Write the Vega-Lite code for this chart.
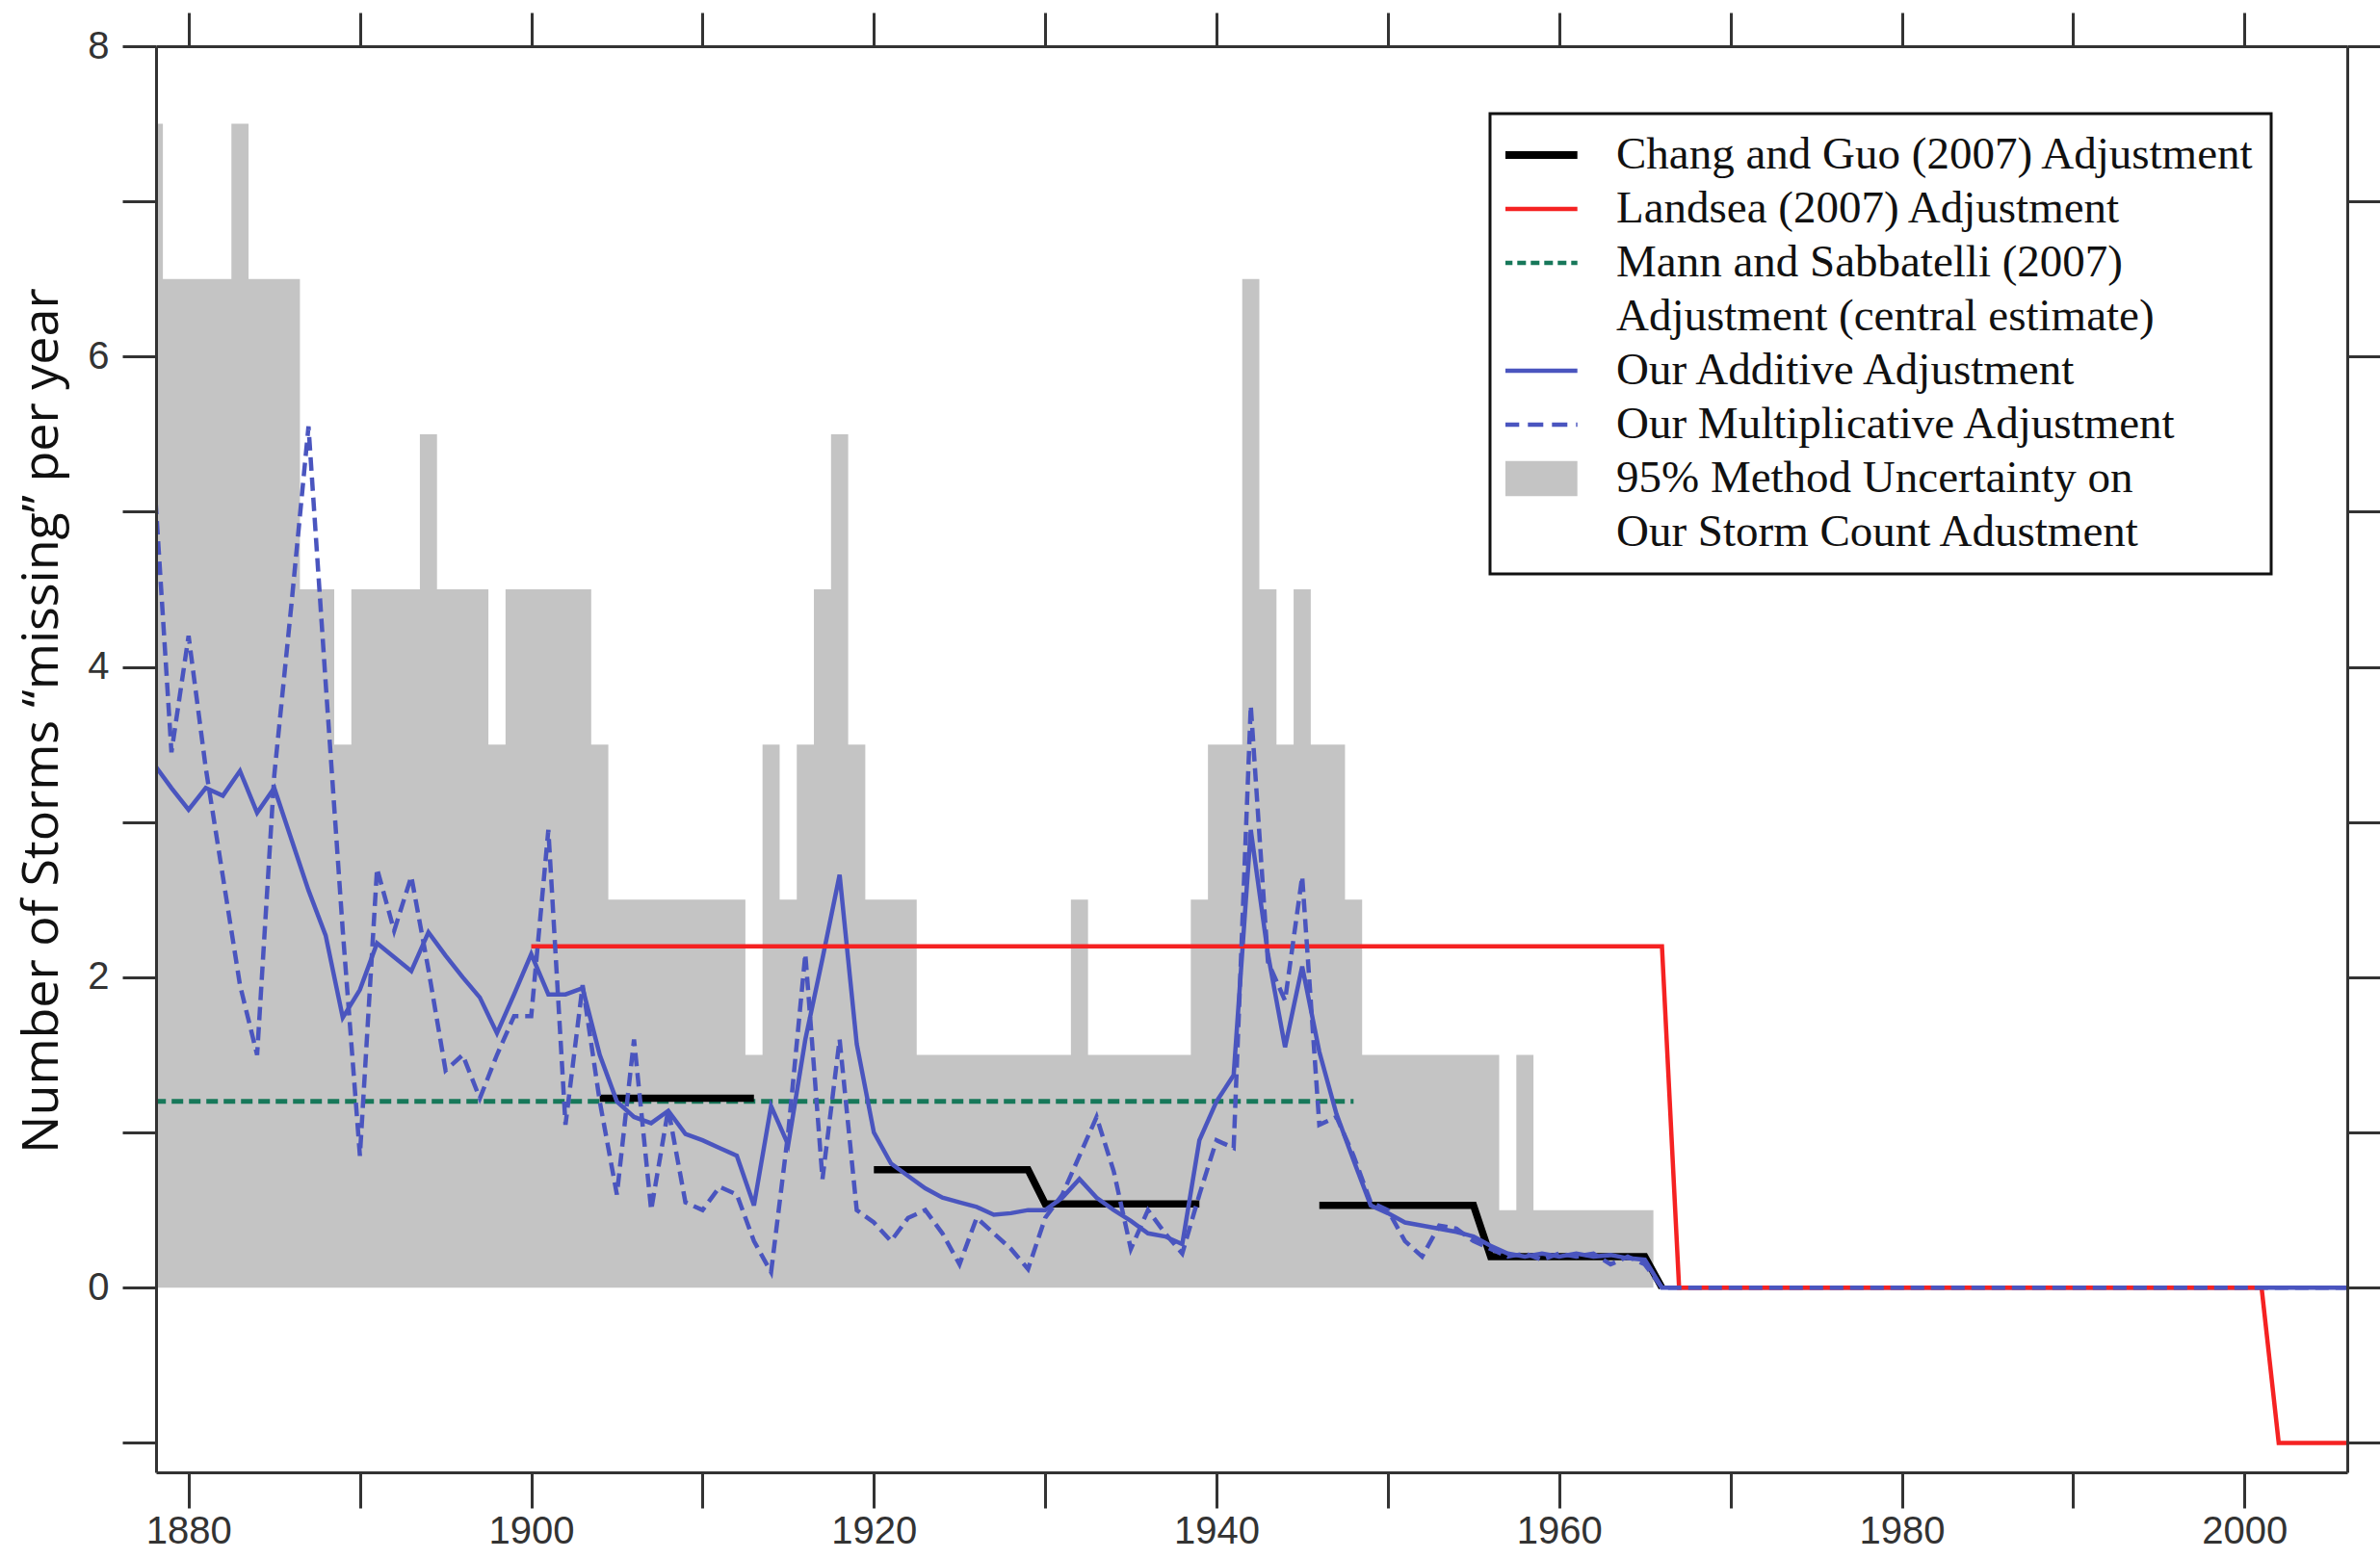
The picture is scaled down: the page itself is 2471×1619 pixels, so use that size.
{
  "$schema": "https://vega.github.io/schema/vega-lite/v6.json",
  "width": 2275,
  "height": 1481,
  "autosize": {"type": "none"},
  "padding": {"left": 162, "top": 48, "right": 34, "bottom": 90},
  "background": "white",
  "config": {
    "view": {"stroke": null},
    "legend": {"strokeWidth": 3},
    "axis": {
      "domainColor": "#333333",
      "domainWidth": 3,
      "tickColor": "#333333",
      "tickWidth": 3,
      "grid": false,
      "labelFont": "Liberation Sans",
      "labelColor": "#333333",
      "labelFlush": false,
      "labelOverlap": false
    }
  },
  "datasets": {
    "unc": [
      {"year":1878,"hi":7.5},{"year":1879,"hi":6.5},{"year":1880,"hi":6.5},{"year":1881,"hi":6.5},{"year":1882,"hi":6.5},
      {"year":1883,"hi":7.5},{"year":1884,"hi":6.5},{"year":1885,"hi":6.5},{"year":1886,"hi":6.5},{"year":1887,"hi":4.5},
      {"year":1888,"hi":4.5},{"year":1889,"hi":3.5},{"year":1890,"hi":4.5},{"year":1891,"hi":4.5},{"year":1892,"hi":4.5},
      {"year":1893,"hi":4.5},{"year":1894,"hi":5.5},{"year":1895,"hi":4.5},{"year":1896,"hi":4.5},{"year":1897,"hi":4.5},
      {"year":1898,"hi":3.5},{"year":1899,"hi":4.5},{"year":1900,"hi":4.5},{"year":1901,"hi":4.5},{"year":1902,"hi":4.5},
      {"year":1903,"hi":4.5},{"year":1904,"hi":3.5},{"year":1905,"hi":2.5},{"year":1906,"hi":2.5},{"year":1907,"hi":2.5},
      {"year":1908,"hi":2.5},{"year":1909,"hi":2.5},{"year":1910,"hi":2.5},{"year":1911,"hi":2.5},{"year":1912,"hi":2.5},
      {"year":1913,"hi":1.5},{"year":1914,"hi":3.5},{"year":1915,"hi":2.5},{"year":1916,"hi":3.5},{"year":1917,"hi":4.5},
      {"year":1918,"hi":5.5},{"year":1919,"hi":3.5},{"year":1920,"hi":2.5},{"year":1921,"hi":2.5},{"year":1922,"hi":2.5},
      {"year":1923,"hi":1.5},{"year":1924,"hi":1.5},{"year":1925,"hi":1.5},{"year":1926,"hi":1.5},{"year":1927,"hi":1.5},
      {"year":1928,"hi":1.5},{"year":1929,"hi":1.5},{"year":1930,"hi":1.5},{"year":1931,"hi":1.5},{"year":1932,"hi":2.5},
      {"year":1933,"hi":1.5},{"year":1934,"hi":1.5},{"year":1935,"hi":1.5},{"year":1936,"hi":1.5},{"year":1937,"hi":1.5},
      {"year":1938,"hi":1.5},{"year":1939,"hi":2.5},{"year":1940,"hi":3.5},{"year":1941,"hi":3.5},{"year":1942,"hi":6.5},
      {"year":1943,"hi":4.5},{"year":1944,"hi":3.5},{"year":1945,"hi":4.5},{"year":1946,"hi":3.5},{"year":1947,"hi":3.5},
      {"year":1948,"hi":2.5},{"year":1949,"hi":1.5},{"year":1950,"hi":1.5},{"year":1951,"hi":1.5},{"year":1952,"hi":1.5},
      {"year":1953,"hi":1.5},{"year":1954,"hi":1.5},{"year":1955,"hi":1.5},{"year":1956,"hi":1.5},{"year":1957,"hi":0.5},
      {"year":1958,"hi":1.5},{"year":1959,"hi":0.5},{"year":1960,"hi":0.5},{"year":1961,"hi":0.5},{"year":1962,"hi":0.5},
      {"year":1963,"hi":0.5},{"year":1964,"hi":0.5},{"year":1965,"hi":0.5},{"year":1966,"hi":0}
    ],
    "ours": [
      {"year":1878,"add":3.37,"mult":5.2},{"year":1879,"add":3.22,"mult":3.45},{"year":1880,"add":3.08,"mult":4.2},
      {"year":1881,"add":3.22,"mult":3.35},{"year":1882,"add":3.17,"mult":2.65},{"year":1883,"add":3.33,"mult":1.95},
      {"year":1884,"add":3.06,"mult":1.5},{"year":1885,"add":3.22,"mult":3.3},{"year":1886,"add":2.89,"mult":4.4},
      {"year":1887,"add":2.56,"mult":5.55},{"year":1888,"add":2.27,"mult":3.9},{"year":1889,"add":1.74,"mult":2.3},
      {"year":1890,"add":1.92,"mult":0.85},{"year":1891,"add":2.22,"mult":2.7},{"year":1892,"add":2.13,"mult":2.3},
      {"year":1893,"add":2.04,"mult":2.65},{"year":1894,"add":2.29,"mult":2.05},{"year":1895,"add":2.14,"mult":1.4},
      {"year":1896,"add":2.0,"mult":1.5},{"year":1897,"add":1.87,"mult":1.22},{"year":1898,"add":1.64,"mult":1.5},
      {"year":1899,"add":1.89,"mult":1.75},{"year":1900,"add":2.15,"mult":1.75},{"year":1901,"add":1.89,"mult":2.95},
      {"year":1902,"add":1.89,"mult":1.05},{"year":1903,"add":1.93,"mult":1.95},{"year":1904,"add":1.5,"mult":1.2},
      {"year":1905,"add":1.2,"mult":0.6},{"year":1906,"add":1.1,"mult":1.6},{"year":1907,"add":1.06,"mult":0.5},
      {"year":1908,"add":1.14,"mult":1.15},{"year":1909,"add":0.99,"mult":0.55},{"year":1910,"add":0.95,"mult":0.5},
      {"year":1911,"add":0.9,"mult":0.65},{"year":1912,"add":0.85,"mult":0.6},{"year":1913,"add":0.53,"mult":0.3},
      {"year":1914,"add":1.17,"mult":0.1},{"year":1915,"add":0.92,"mult":1.0},{"year":1916,"add":1.6,"mult":2.15},
      {"year":1917,"add":2.12,"mult":0.7},{"year":1918,"add":2.66,"mult":1.6},{"year":1919,"add":1.57,"mult":0.5},
      {"year":1920,"add":1.0,"mult":0.42},{"year":1921,"add":0.8,"mult":0.3},{"year":1922,"add":0.72,"mult":0.45},
      {"year":1923,"add":0.64,"mult":0.5},{"year":1924,"add":0.58,"mult":0.35},{"year":1925,"add":0.55,"mult":0.15},
      {"year":1926,"add":0.52,"mult":0.45},{"year":1927,"add":0.47,"mult":0.35},{"year":1928,"add":0.48,"mult":0.25},
      {"year":1929,"add":0.5,"mult":0.12},{"year":1930,"add":0.5,"mult":0.45},{"year":1931,"add":0.58,"mult":0.6},
      {"year":1932,"add":0.7,"mult":0.85},{"year":1933,"add":0.58,"mult":1.1},{"year":1934,"add":0.5,"mult":0.75},
      {"year":1935,"add":0.43,"mult":0.25},{"year":1936,"add":0.35,"mult":0.5},{"year":1937,"add":0.33,"mult":0.35},
      {"year":1938,"add":0.28,"mult":0.22},{"year":1939,"add":0.95,"mult":0.6},{"year":1940,"add":1.2,"mult":0.95},
      {"year":1941,"add":1.37,"mult":0.9},{"year":1942,"add":2.95,"mult":3.75},{"year":1943,"add":2.15,"mult":2.1},
      {"year":1944,"add":1.55,"mult":1.85},{"year":1945,"add":2.07,"mult":2.65},{"year":1946,"add":1.52,"mult":1.05},
      {"year":1947,"add":1.12,"mult":1.1},{"year":1948,"add":0.82,"mult":0.85},{"year":1949,"add":0.53,"mult":0.55},
      {"year":1950,"add":0.48,"mult":0.5},{"year":1951,"add":0.42,"mult":0.3},{"year":1952,"add":0.4,"mult":0.2},
      {"year":1953,"add":0.38,"mult":0.4},{"year":1954,"add":0.36,"mult":0.38},{"year":1955,"add":0.33,"mult":0.3},
      {"year":1956,"add":0.27,"mult":0.25},{"year":1957,"add":0.22,"mult":0.2},{"year":1958,"add":0.2,"mult":0.22},
      {"year":1959,"add":0.22,"mult":0.18},{"year":1960,"add":0.2,"mult":0.22},{"year":1961,"add":0.22,"mult":0.2},
      {"year":1962,"add":0.2,"mult":0.22},{"year":1963,"add":0.21,"mult":0.15},{"year":1964,"add":0.19,"mult":0.2},
      {"year":1965,"add":0.18,"mult":0.15},{"year":1966,"add":0,"mult":0},{"year":1967,"add":0,"mult":0},
      {"year":1968,"add":0,"mult":0},{"year":1969,"add":0,"mult":0},{"year":1970,"add":0,"mult":0},
      {"year":1971,"add":0,"mult":0},{"year":1972,"add":0,"mult":0},{"year":1973,"add":0,"mult":0},
      {"year":1974,"add":0,"mult":0},{"year":1975,"add":0,"mult":0},{"year":1976,"add":0,"mult":0},
      {"year":1977,"add":0,"mult":0},{"year":1978,"add":0,"mult":0},{"year":1979,"add":0,"mult":0},
      {"year":1980,"add":0,"mult":0},{"year":1981,"add":0,"mult":0},{"year":1982,"add":0,"mult":0},
      {"year":1983,"add":0,"mult":0},{"year":1984,"add":0,"mult":0},{"year":1985,"add":0,"mult":0},
      {"year":1986,"add":0,"mult":0},{"year":1987,"add":0,"mult":0},{"year":1988,"add":0,"mult":0},
      {"year":1989,"add":0,"mult":0},{"year":1990,"add":0,"mult":0},{"year":1991,"add":0,"mult":0},
      {"year":1992,"add":0,"mult":0},{"year":1993,"add":0,"mult":0},{"year":1994,"add":0,"mult":0},
      {"year":1995,"add":0,"mult":0},{"year":1996,"add":0,"mult":0},{"year":1997,"add":0,"mult":0},
      {"year":1998,"add":0,"mult":0},{"year":1999,"add":0,"mult":0},{"year":2000,"add":0,"mult":0},
      {"year":2001,"add":0,"mult":0},{"year":2002,"add":0,"mult":0},{"year":2003,"add":0,"mult":0},
      {"year":2004,"add":0,"mult":0},{"year":2005,"add":0,"mult":0},{"year":2006,"add":0,"mult":0}
    ],
    "chang": [
      {"seg":"a","year":1904,"v":1.22},{"seg":"a","year":1913,"v":1.22},
      {"seg":"b","year":1920,"v":0.76},{"seg":"b","year":1929,"v":0.76},{"seg":"b","year":1930,"v":0.54},{"seg":"b","year":1939,"v":0.54},
      {"seg":"c","year":1946,"v":0.53},{"seg":"c","year":1955,"v":0.53},{"seg":"c","year":1956,"v":0.2},{"seg":"c","year":1965,"v":0.2},{"seg":"c","year":1966,"v":0}
    ],
    "landsea": [
      {"year":1900,"v":2.2},{"year":1966,"v":2.2},{"year":1967,"v":0},{"year":2001,"v":0},{"year":2002,"v":-1},{"year":2006,"v":-1}
    ],
    "mann": [
      {"year":1878,"v":1.2},{"year":1948,"v":1.2}
    ]
  },
  "resolve": {"axis": {"x": "independent", "y": "independent"}},
  "layer": [
    {
      "data": {"name": "unc"},
      "mark": {"type": "area", "interpolate": "step", "opacity": 1, "clip": true},
      "encoding": {
        "x": {
          "field": "year", "type": "quantitative",
          "scale": {"domain": [1878.1, 2006], "nice": false, "zero": false},
          "axis": {
            "orient": "bottom", "title": null, "format": "d",
            "values": [1880,1890,1900,1910,1920,1930,1940,1950,1960,1970,1980,1990,2000],
            "labelExpr": "datum.value % 20 == 0 ? datum.label : ''",
            "tickSize": 37, "labelFontSize": 40, "labelPadding": 4, "zindex": 1
          }
        },
        "y": {
          "field": "hi", "type": "quantitative",
          "scale": {"domain": [-1.19, 8], "nice": false, "zero": false},
          "axis": {
            "orient": "left",
            "values": [-1,0,1,2,3,4,5,6,7,8],
            "labelExpr": "datum.value >= 0 && datum.value % 2 == 0 ? datum.label : ''",
            "tickSize": 35, "labelFontSize": 40, "labelPadding": 14, "zindex": 1,
            "title": "Number of Storms “missing” per year",
            "titleFont": "Open Sans", "titleFontSize": 52, "titleFontWeight": "normal", "titleColor": "#111111",
            "titleAngle": -90, "titleX": -103, "titleY": 700, "titleAlign": "center", "titleBaseline": "alphabetic"
          }
        },
        "y2": {"datum": 0},
        "color": {"datum": "95% Method Uncertainty on", "type": "nominal"}
      }
    },
    {
      "mark": {"type": "rule", "color": "#3a3a3a", "strokeWidth": 2.5},
      "encoding": {"y": {"datum": 0, "type": "quantitative", "axis": null}}
    },
    {
      "data": {"name": "mann"},
      "mark": {"type": "line", "strokeWidth": 5, "strokeDash": [12, 6], "clip": true},
      "encoding": {
        "x": {"field": "year", "type": "quantitative", "axis": null},
        "y": {"field": "v", "type": "quantitative", "axis": null},
        "color": {
          "datum": "Mann and Sabbatelli (2007)", "type": "nominal",
          "scale": {
            "domain": ["Chang and Guo (2007) Adjustment", "Landsea (2007) Adjustment", "Mann and Sabbatelli (2007)", "Adjustment (central estimate)", "Our Additive Adjustment", "Our Multiplicative Adjustment", "95% Method Uncertainty on", "Our Storm Count Adustment"],
            "range": ["#000000", "#f52222", "#17785a", "rgba(0,0,0,0)", "#4a55bf", "#4a55bf", "#c4c4c4", "rgba(0,0,0,0)"]
          },
          "legend": {
            "orient": "none", "legendX": 1385, "legendY": 70,
            "title": null, "padding": 16,
            "strokeColor": "#111111", "fillColor": "white",
            "symbolType": "stroke", "symbolSize": 5838, "symbolOffset": 13,
            "clipHeight": 54, "rowPadding": 2,
            "labelFont": "Liberation Serif", "labelFontSize": 47, "labelColor": "#111111",
            "labelOffset": 55, "labelLimit": 2000,
            "encode": {
              "symbols": {
                "update": {
                  "shape": {"signal": "datum.value === '95% Method Uncertainty on' ? 'M-1,-0.48H1V0.48H-1Z' : 'stroke'"},
                  "fill": {"signal": "datum.value === '95% Method Uncertainty on' ? '#bdbdbd' : 'transparent'"},
                  "strokeWidth": {"signal": "datum.value === 'Chang and Guo (2007) Adjustment' ? 8 : datum.value === '95% Method Uncertainty on' ? 0 : 4.5"},
                  "strokeDash": {"signal": "datum.value === 'Mann and Sabbatelli (2007)' ? [9, 5] : datum.value === 'Our Multiplicative Adjustment' ? [16, 9] : [1, 0]"},
                  "opacity": {"value": 1}
                }
              }
            }
          }
        }
      }
    },
    {
      "data": {"name": "chang"},
      "mark": {"type": "line", "strokeWidth": 7.5, "clip": true},
      "encoding": {
        "x": {"field": "year", "type": "quantitative", "axis": null},
        "y": {"field": "v", "type": "quantitative", "axis": null},
        "detail": {"field": "seg", "type": "nominal"},
        "color": {"datum": "Chang and Guo (2007) Adjustment", "type": "nominal"}
      }
    },
    {
      "data": {"name": "ours"},
      "mark": {"type": "line", "strokeWidth": 4.5, "clip": true},
      "encoding": {
        "x": {"field": "year", "type": "quantitative", "axis": null},
        "y": {"field": "add", "type": "quantitative", "axis": null},
        "color": {"datum": "Our Additive Adjustment", "type": "nominal"}
      }
    },
    {
      "data": {"name": "landsea"},
      "mark": {"type": "line", "strokeWidth": 4.5, "clip": true},
      "encoding": {
        "x": {
          "field": "year", "type": "quantitative",
          "axis": {
            "orient": "top", "title": null, "labels": false,
            "values": [1880,1890,1900,1910,1920,1930,1940,1950,1960,1970,1980,1990,2000],
            "tickSize": 35, "zindex": 1
          }
        },
        "y": {
          "field": "v", "type": "quantitative",
          "axis": {
            "orient": "right", "title": null, "labels": false,
            "values": [-1,0,1,2,3,4,5,6,7,8],
            "tickSize": 35, "zindex": 1
          }
        },
        "color": {"datum": "Landsea (2007) Adjustment", "type": "nominal"}
      }
    },
    {
      "data": {"name": "ours"},
      "mark": {"type": "line", "strokeWidth": 4.5, "strokeDash": [14, 7], "clip": true},
      "encoding": {
        "x": {"field": "year", "type": "quantitative", "axis": null},
        "y": {"field": "mult", "type": "quantitative", "axis": null},
        "color": {"datum": "Our Multiplicative Adjustment", "type": "nominal"}
      }
    }
  ]
}
